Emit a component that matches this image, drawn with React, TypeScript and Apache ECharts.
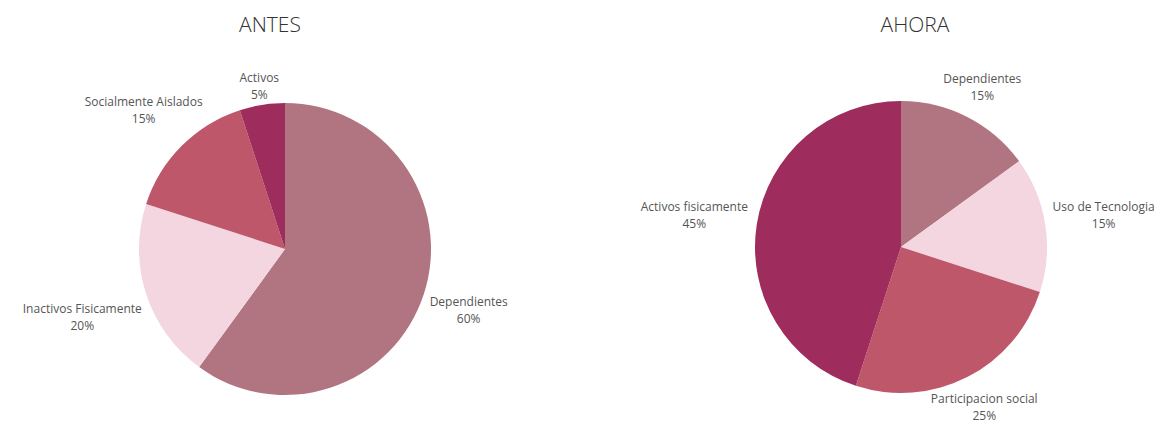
import React, { useEffect, useRef } from "react";
import * as echarts from "echarts";

const antesCategories = ["Dependientes", "Inactivos Fisicamente", "Socialmente Aislados", "Activos"];
const antesValues = [60, 20, 15, 5];
const antesColors = ["#b07580", "#f3d6df", "#bd5769", "#9e2c5c"];

const ahoraCategories = ["Dependientes", "Uso de Tecnologia", "Participacion social", "Activos fisicamente"];
const ahoraValues = [15, 15, 25, 45];
const ahoraColors = ["#b07580", "#f3d6df", "#bd5769", "#9e2c5c"];

const titles = ["ANTES", "AHORA"];

// layout (not data): pie centers, radius, label distance and per-label nudges
const pieCenters: [number, number][] = [
  [285, 249],
  [901, 247],
];
const pieRadius = 146;
const labelDistance = 190;
const labelNudges: [number, number][][] = [
  [
    [3, 2],
    [-22, 9],
    [-7, -5],
    [4, 25],
  ],
  [
    [-5, 9],
    [15, -2],
    [-3, -9],
    [-19, -2],
  ],
];

function buildData(cats: string[], vals: number[], cols: string[]) {
  return cats.map((name, i) => ({ name, value: vals[i], itemStyle: { color: cols[i] } }));
}

function midAngles(vals: number[]) {
  const total = vals.reduce((a, b) => a + b, 0);
  let acc = 0;
  return vals.map((v) => {
    const mid = acc + v / 2;
    acc += v;
    return (mid / total) * Math.PI * 2; // clockwise from top
  });
}

const allValues = [antesValues, ahoraValues];

export default function App() {
  const ref = useRef<HTMLDivElement>(null);
  useEffect(() => {
    document.body.style.margin = "0";
    const chart = echarts.init(ref.current!, null, { renderer: "svg" });
    const labelStyle = {
      show: true,
      position: "outside" as const,
      formatter: "{b}\n{c}%",
      fontFamily: "Open Sans",
      fontSize: 12,
      lineHeight: 17,
      color: "#555",
      overflow: "none" as const,
    };
    const layoutFn = (params: any) => {
      const s = params.seriesIndex;
      const i = params.dataIndex;
      const ang = midAngles(allValues[s])[i];
      const [cx, cy] = pieCenters[s];
      const [nx, ny] = labelNudges[s][i];
      return {
        x: cx + Math.sin(ang) * labelDistance + nx,
        y: cy - Math.cos(ang) * labelDistance + ny,
        align: "center",
        verticalAlign: "middle",
      };
    };
    const titleStyle = { fontFamily: "Open Sans", fontSize: 21, fontWeight: 300, color: "#333" };
    chart.setOption({
      animation: false,
      backgroundColor: "#ffffff",
      title: [
        { text: titles[0], left: 265, top: 8, textAlign: "center", textStyle: titleStyle },
        { text: titles[1], left: 910, top: 8, textAlign: "center", textStyle: titleStyle },
      ],
      series: [0, 1].map((s) => ({
        type: "pie",
        center: pieCenters[s],
        radius: pieRadius,
        startAngle: 90,
        clockwise: true,
        label: labelStyle,
        labelLine: { show: false, length: 10, length2: 0 },
        labelLayout: layoutFn,
        emphasis: { disabled: true },
        data:
          s === 0
            ? buildData(antesCategories, antesValues, antesColors)
            : buildData(ahoraCategories, ahoraValues, ahoraColors),
      })),
    });
    return () => chart.dispose();
  }, []);
  return <div ref={ref} style={{ width: 1158, height: 423 }} />;
}
